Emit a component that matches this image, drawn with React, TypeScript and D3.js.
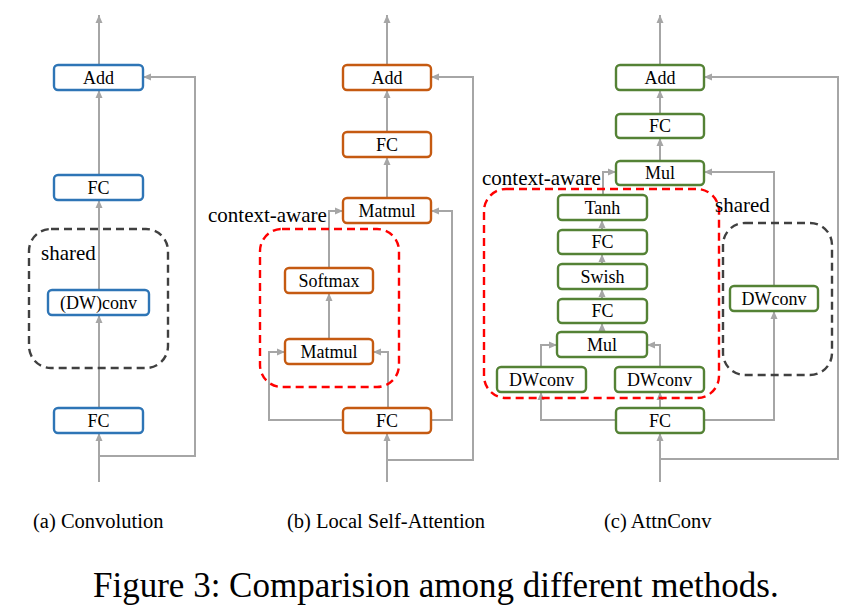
import React from "react";
import * as d3 from "d3";

// node labels for each panel
const convLabels = ["Add", "FC", "(DW)conv", "FC"];
const lsaLabels = ["Add", "FC", "Matmul", "Softmax", "Matmul", "FC"];
const attnLabels = ["Add", "FC", "Mul", "Tanh", "FC", "Swish", "FC", "Mul", "DWconv", "DWconv", "FC", "DWconv"];
const captions = ["(a) Convolution", "(b) Local Self-Attention", "(c) AttnConv"];
const colors = ["#2e75b6", "#c55a11", "#548235"];
const title = "Figure 3: Comparision among different methods.";

type Box = { label: string; x0: number; x1: number; y0: number; y1: number };
type Pt = [number, number];

const mk = (label: string, x0: number, x1: number, y0: number, y1: number): Box => ({ label, x0, x1, y0, y1 });

// layout (pixels)
const convBoxes: Box[] = [
  mk(convLabels[0], 54, 143, 65, 90),
  mk(convLabels[1], 54, 143, 175, 200),
  mk(convLabels[2], 48, 149, 290, 315),
  mk(convLabels[3], 54, 143, 408, 433),
];
const convLinks: Pt[][] = [
  [[99, 482], [99, 433]],
  [[99, 456], [195, 456], [195, 77], [143, 77]],
  [[99, 408], [99, 315]],
  [[99, 290], [99, 200]],
  [[99, 175], [99, 90]],
  [[99, 65], [99, 15]],
];

const lsaBoxes: Box[] = [
  mk(lsaLabels[0], 343, 431, 65, 90),
  mk(lsaLabels[1], 343, 431, 132, 157),
  mk(lsaLabels[2], 343, 431, 198, 223),
  mk(lsaLabels[3], 285, 373, 268, 293),
  mk(lsaLabels[4], 285, 373, 339, 364),
  mk(lsaLabels[5], 343, 431, 408, 433),
];
const lsaLinks: Pt[][] = [
  [[387, 482], [387, 433]],
  [[387, 460], [473, 460], [473, 77], [431, 77]],
  [[343, 420], [269, 420], [269, 352], [285, 352]],
  [[388, 408], [388, 352], [373, 352]],
  [[431, 420], [452, 420], [452, 211], [431, 211]],
  [[329, 339], [329, 293]],
  [[329, 268], [329, 211], [343, 211]],
  [[387, 198], [387, 157]],
  [[387, 132], [387, 90]],
  [[387, 65], [387, 15]],
];

const attnBoxes: Box[] = [
  mk(attnLabels[0], 616, 704, 65, 90),
  mk(attnLabels[1], 616, 704, 114, 138),
  mk(attnLabels[2], 616, 704, 161, 185),
  mk(attnLabels[3], 558, 647, 195, 220),
  mk(attnLabels[4], 558, 647, 230, 254),
  mk(attnLabels[5], 558, 647, 264, 289),
  mk(attnLabels[6], 558, 647, 299, 323),
  mk(attnLabels[7], 557, 647, 332, 357),
  mk(attnLabels[8], 497, 586, 367, 392),
  mk(attnLabels[9], 615, 704, 367, 392),
  mk(attnLabels[10], 616, 704, 408, 433),
  mk(attnLabels[11], 730, 818, 286, 311),
];
const attnLinks: Pt[][] = [
  [[660, 482], [660, 433]],
  [[660, 459], [838, 459], [838, 77], [704, 77]],
  [[616, 420], [541, 420], [541, 392]],
  [[660, 408], [660, 392]],
  [[704, 420], [774, 420], [774, 311]],
  [[774, 286], [774, 172], [704, 172]],
  [[541, 367], [541, 345], [557, 345]],
  [[660, 367], [660, 345], [647, 345]],
  [[602, 332], [602, 323]],
  [[602, 299], [602, 289]],
  [[602, 264], [602, 254]],
  [[602, 230], [602, 220]],
  [[603, 195], [603, 172], [616, 172]],
  [[660, 161], [660, 138]],
  [[660, 114], [660, 90]],
  [[660, 65], [660, 15]],
];

const groups = [
  { x0: 29, x1: 168, y0: 229, y1: 368, color: "#404040" },
  { x0: 260, x1: 399, y0: 229, y1: 387, color: "#ff0000" },
  { x0: 484, x1: 719, y0: 189, y1: 398, color: "#ff0000" },
  { x0: 723, x1: 832, y0: 223, y1: 375, color: "#404040" },
];
const groupLabels = [
  { text: "shared", x: 41, y: 260 },
  { text: "context-aware", x: 208, y: 222 },
  { text: "context-aware", x: 482, y: 185 },
  { text: "shared", x: 715, y: 212 },
];

const panels = [
  { boxes: convBoxes, links: convLinks, color: colors[0], x0: 33 },
  { boxes: lsaBoxes, links: lsaLinks, color: colors[1], x0: 287 },
  { boxes: attnBoxes, links: attnLinks, color: colors[2], x0: 604 },
];

const font = "'Liberation Serif', 'Times New Roman', serif";
const line = d3.line<Pt>().x((d) => d[0]).y((d) => d[1]);

export default function App() {
  return (
    <svg width={863} height={612} style={{ position: "absolute", left: 0, top: 0, background: "#fff" }}>
      <defs>
        <marker id="arr" markerUnits="userSpaceOnUse" markerWidth={9} markerHeight={8} refX={8} refY={4} orient="auto">
          <path d="M0,0.5 L8,4 L0,7.5 z" fill="#a6a6a6" />
        </marker>
      </defs>
      {panels.map((p, i) => (
        <g key={i}>
          {p.links.map((l, j) => (
            <path key={j} d={line(l) || ""} fill="none" stroke="#a6a6a6" strokeWidth={2} markerEnd="url(#arr)" />
          ))}
          {p.boxes.map((b, j) => (
            <g key={j}>
              <rect x={b.x0} y={b.y0} width={b.x1 - b.x0} height={b.y1 - b.y0} rx={4} fill="#fff" stroke={p.color} strokeWidth={2.4} />
              <text x={(b.x0 + b.x1) / 2} y={(b.y0 + b.y1) / 2 + 6} textAnchor="middle" fontFamily={font} fontSize={18} fill="#000">
                {b.label}
              </text>
            </g>
          ))}
          <text x={p.x0} y={528} fontFamily={font} fontSize={20.5} fill="#000">
            {captions[i]}
          </text>
        </g>
      ))}
      {groups.map((g, i) => (
        <rect key={i} x={g.x0} y={g.y0} width={g.x1 - g.x0} height={g.y1 - g.y0} rx={22} fill="none" stroke={g.color} strokeWidth={2.4} strokeDasharray="8,5" />
      ))}
      {groupLabels.map((t, i) => (
        <text key={i} x={t.x} y={t.y} fontFamily={font} fontSize={21} fill="#000">
          {t.text}
        </text>
      ))}
      <text x={93} y={597} fontFamily={font} fontSize={35} fill="#000">
        {title}
      </text>
    </svg>
  );
}
